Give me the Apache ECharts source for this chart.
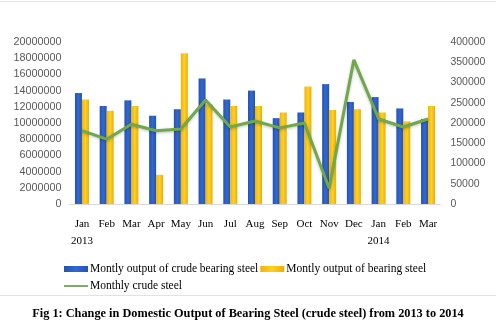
<!DOCTYPE html>
<html><head><meta charset="utf-8">
<script src="https://cdn.jsdelivr.net/npm/echarts@6/dist/echarts.min.js"></script>
<style>html,body{margin:0;padding:0;background:#fff;}#c{width:496px;height:327px;}</style>
</head><body><div id="c"></div>
<script>
const categories = ['Jan\n2013','Feb','Mar','Apr','May','Jun','Jul','Aug','Sep','Oct','Nov','Dec','Jan\n2014','Feb','Mar'];
const crudeBearing = [13700000,12100000,12800000,10900000,11700000,15500000,12900000,14000000,10600000,11300000,14800000,12600000,13200000,11800000,10500000];
const bearing = [12900000,11500000,12100000,3600000,18600000,12300000,12100000,12100000,11300000,14500000,11600000,11700000,11300000,10200000,12100000];
const crudeSteel = [181000,160000,197000,181000,185000,257000,190000,205000,188000,200000,39000,356000,210000,190000,210000];
const leftTicks = [0,2000000,4000000,6000000,8000000,10000000,12000000,14000000,16000000,18000000,20000000];
const rightTicks = [0,50000,100000,150000,200000,250000,300000,350000,400000];
const names = ['Montly output of crude bearing steel','Montly output of bearing steel','Monthly crude steel'];

const chart = echarts.init(document.getElementById('c'));
const blueGrad = new echarts.graphic.LinearGradient(0,0,1,0,[{offset:0,color:'#2453B0'},{offset:0.5,color:'#3468CF'},{offset:1,color:'#2453B0'}]);
const yelGrad = new echarts.graphic.LinearGradient(0,0,1,0,[{offset:0,color:'#F2B400'},{offset:0.5,color:'#FFD02A'},{offset:1,color:'#EAAE00'}]);
const legText = {fontFamily:'Liberation Serif',fontSize:11.5,color:'#000',padding:[0,0,0,-3]};
chart.setOption({
  animation:false,
  backgroundColor:'#fff',
  title:{text:'Fig 1: Change in Domestic Output of Bearing Steel (crude steel) from 2013 to 2014',left:'center',top:303,
    textStyle:{fontFamily:'Liberation Serif',fontWeight:'bold',fontSize:12.3,color:'#000'}},
  graphic:[
    {type:'line',shape:{x1:0,y1:295.5,x2:496,y2:295.5},style:{stroke:'#e2e2e2',lineWidth:1}},
    {type:'line',shape:{x1:0,y1:1.5,x2:496,y2:1.5},style:{stroke:'#e6e6e6',lineWidth:1}}
  ],
  legend:[
    {data:[names[0],names[1]],left:59,top:258,itemWidth:24,itemHeight:6,itemGap:2,icon:'rect',textStyle:legText},
    {data:[names[2]],left:59,top:275,itemWidth:24,itemHeight:2,icon:'rect',textStyle:legText}
  ],
  grid:{left:69.6,right:55.6,top:42,bottom:123},
  xAxis:{type:'category',data:categories,
    axisLine:{lineStyle:{color:'#d9d9d9'}},axisTick:{show:false},
    axisLabel:{interval:0,color:'#000',fontFamily:'Liberation Serif',fontSize:11,margin:12,lineHeight:17,align:'center'}},
  yAxis:[
    {type:'value',min:0,max:20000000,interval:2000000,splitLine:{show:false},axisLine:{show:false},axisTick:{show:false},
      axisLabel:{color:'#595959',fontFamily:'Liberation Sans',fontSize:10.8,margin:8,formatter:v=>String(v)}},
    {type:'value',min:0,max:400000,interval:50000,splitLine:{show:false},axisLine:{show:false},axisTick:{show:false},
      axisLabel:{color:'#595959',fontFamily:'Liberation Sans',fontSize:10.5,margin:10,formatter:v=>String(v)}}
  ],
  series:[
    {name:names[0],type:'bar',data:crudeBearing,barWidth:7,barGap:'0%',itemStyle:{color:blueGrad}},
    {name:names[1],type:'bar',data:bearing,barWidth:7,barGap:'0%',itemStyle:{color:yelGrad}},
    {name:names[2],type:'line',yAxisIndex:1,data:crudeSteel,symbol:'none',
      lineStyle:{color:'#70A84B',width:3,shadowColor:'rgba(0,0,0,0.25)',shadowBlur:3,shadowOffsetY:1},
      itemStyle:{color:'#80A870'}}
  ]
});
</script></body></html>
